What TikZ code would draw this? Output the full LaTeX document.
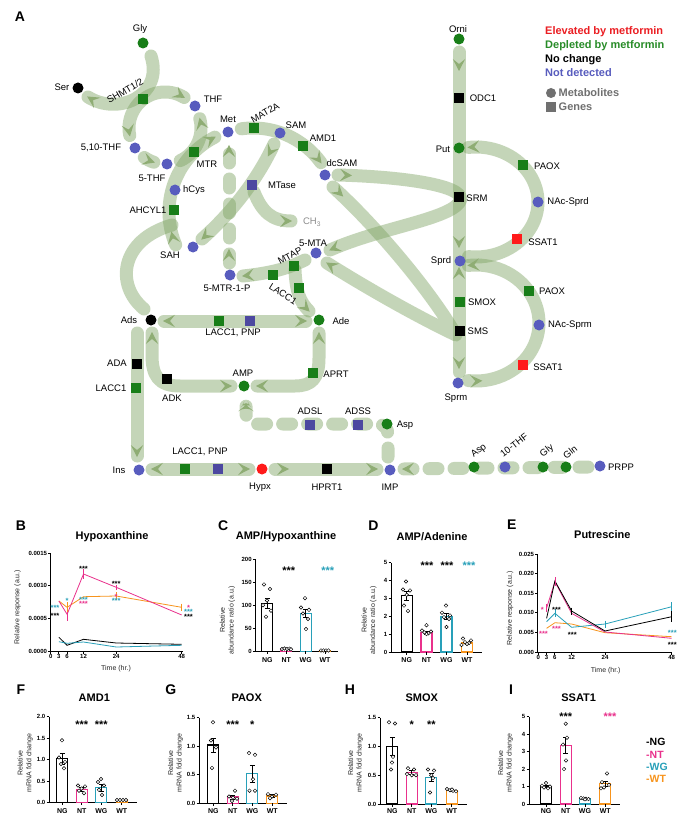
\documentclass[tikz,border=0pt]{standalone}
\usepackage{fontspec}
\setmainfont{Liberation Sans}
\usetikzlibrary{decorations.markings,shapes.geometric}
\definecolor{bandbase}{RGB}{126,164,99}
\definecolor{chevc}{RGB}{143,173,116}
\definecolor{gN}{RGB}{24,126,24}
\definecolor{bC}{RGB}{88,92,190}
\definecolor{bS}{RGB}{76,72,160}
\definecolor{rN}{RGB}{255,26,26}
\definecolor{mag}{RGB}{233,49,140}
\definecolor{cteal}{RGB}{40,160,185}
\definecolor{corg}{RGB}{247,148,29}
\definecolor{legg}{RGB}{112,112,112}
\definecolor{cgray}{RGB}{140,140,140}
\definecolor{legr}{RGB}{235,30,35}
\definecolor{legn}{RGB}{40,140,40}
\newcommand{\chevF}{\fill[chevc] (1pt,0pt) -- (-11pt,6.2pt) -- (-6pt,0pt) -- (-11pt,-6.2pt) -- cycle;}
\newcommand{\chevB}{\fill[chevc] (-1pt,0pt) -- (11pt,6.2pt) -- (6pt,0pt) -- (11pt,-6.2pt) -- cycle;}
\newcommand{\barC}[4]{\draw[#4, line width=1.3pt, fill=white] ({#1-5.5},#3) rectangle ({#1+5.5},#2);}
\newcommand{\errC}[3]{\draw[line width=0.55pt] (#1,{#2-#3}) -- (#1,{#2+#3}) ({#1-2.5},{#2-#3}) -- ({#1+2.5},{#2-#3}) ({#1-2.5},{#2+#3}) -- ({#1+2.5},{#2+#3});}
\newcommand{\dmd}[2]{\draw[dmst] (#1,{#2-1.8}) -- ({#1+1.8},#2) -- (#1,{#2+1.8}) -- ({#1-1.8},#2) -- cycle;}
\tikzset{
  band/.style={draw=bandbase, draw opacity=0.45, line width=13pt, line cap=round, line join=round},
  pills/.style={band, dash pattern=on 9pt off 16pt},
  fwd/.style={postaction={decorate, decoration={markings, mark=at position 1 with {\chevF}}}},
  bwd/.style={postaction={decorate, decoration={markings, mark=at position 0 with {\chevB}}}},
  sfwd/.style={postaction={decorate, decoration={markings, mark=at position 13pt with {\chevF}}}},
  met/.style={circle, minimum size=11pt, inner sep=0pt},
  gene/.style={rectangle, minimum size=10.5pt, inner sep=0pt},
  lbl/.style={font=\fontsize{9.5}{11}\selectfont, inner sep=0pt},
  leg/.style={font=\fontsize{11}{12}\selectfont\bfseries, inner sep=0pt, anchor=west},
  ax/.style={line width=0.9pt, black},
  tk/.style={font=\fontsize{6}{7}\selectfont\bfseries, inner sep=0.6pt},
  xl/.style={font=\fontsize{7}{8}\selectfont\bfseries, inner sep=0pt},
  axl/.style={font=\fontsize{7}{8.6}\selectfont, inner sep=0pt, text=black!85, align=center},
  ttl/.style={font=\fontsize{11}{12}\selectfont\bfseries, inner sep=0pt},
  pl/.style={font=\fontsize{14}{16}\selectfont\bfseries, inner sep=0pt},
  st/.style={font=\fontsize{7.5}{8}\selectfont\bfseries, inner sep=0pt, yshift=-1.6pt},
  sb/.style={font=\fontsize{11}{12}\selectfont\bfseries, inner sep=0pt, yshift=-2.5pt},
  dmst/.style={draw=black, fill=white, line width=0.45pt},
  ser/.style={line width=0.8pt, mark=square*, mark size=1.1pt}
}
\begin{document}
\begin{tikzpicture}[x=1pt,y=-1pt]
\useasboundingbox (0,0) rectangle (685,821);
\fill[white] (0,0) rectangle (685,821);
\node[pl] at (20,17) {A};
% ---------------- bands
\draw[band,bwd,fwd] (88,97) .. controls (118,116) and (164,96) .. (151,56);
\draw[band,fwd] plot[domain=-125:-58, samples=25] ({165+36*cos(\x)},{128+36*sin(\x)});
\draw[band,fwd] plot[domain=-130:-192, samples=25] ({165+36*cos(\x)},{128+36*sin(\x)});
\draw[band,fwd] plot[domain=125:108, samples=10] ({165+36*cos(\x)},{128+36*sin(\x)});
\draw[band,fwd] plot[domain=65:-15, samples=30] ({165+36*cos(\x)},{128+36*sin(\x)});
\draw[band,sfwd,fwd] plot[domain=157:243, samples=40] ({253+84*cos(\x)},{212+84*sin(\x)});
\draw[band,fwd] plot[domain=-98:-36, samples=30] ({253+84*cos(\x)},{212+84*sin(\x)});
\draw[pills,sfwd,fwd] (229,263) -- (229,146);
\draw[band,sfwd,fwd] (274,144) .. controls (262,170) and (240,205) .. (202,239);
\draw[band,fwd] (254,192) .. controls (262,212) and (272,221) .. (291,221);
\draw[band,sfwd,fwd] (338,175) .. controls (410,177) and (472,187) .. (459,203) .. controls (445,220) and (380,228) .. (330,250);
\draw[band,sfwd,fwd] (333,187) .. controls (375,225) and (430,290) .. (456,335) .. controls (420,318) and (370,290) .. (327,263);
\draw[band,fwd] (305,260) .. controls (292,266) and (280,272) .. (243,276);
\draw[band,fwd] (295,270) .. controls (296,292) and (300,302) .. (309,311);
\draw[band,fwd] (172,225) .. controls (120,240) and (115,285) .. (144,309);
\draw[band,bwd,fwd] (164,321) -- (306,321);
\draw[band,bwd,fwd] (152,333) -- (152,355) .. controls (152,375) and (158,386) .. (180,386) -- (231,386);
\draw[band,bwd,fwd] (319,333) -- (319,358) .. controls (319,378) and (312,386) .. (295,386) -- (257,386);
\draw[band,fwd] (137,333) -- (137,456);
\draw[pills,fwd,rounded corners=10pt] (388,457) -- (388,424) -- (246,424) -- (246,399);
\draw[band,bwd,fwd] (152,469) -- (249,469);
\draw[band,sfwd,fwd] (275,469) -- (377,469);
\draw[pills,fwd] (588,467) -- (403,469);
\draw[band, postaction={decorate, decoration={markings, mark=at position 18pt with {\chevF}, mark=at position 195pt with {\chevF}, mark=at position 216pt with {\chevB}, mark=at position 316pt with {\chevF}}}] (459,52) -- (459,372);
\draw[band,fwd] plot[domain=97:-97, samples=50] ({476+62*cos(\x)},{202+55*sin(\x)});
\draw[band,sfwd,fwd] plot[domain=97:-97, samples=50] ({476+63*cos(\x)},{323+58*sin(\x)});
% ---------------- nodes
\node[met, fill=gN] (gly) at (143,43) {};
\node[met, fill=black] (ser) at (78,88) {};
\node[gene, fill=gN] (shmt) at (143,99) {};
\node[met, fill=bC] (thf) at (195,106) {};
\node[met, fill=bC] (thfa) at (135,148) {};
\node[met, fill=bC] (thfb) at (167,164) {};
\node[gene, fill=gN] (mtr) at (194,152) {};
\node[met, fill=bC] (metn) at (228,132) {};
\node[gene, fill=gN] (mat) at (254,128) {};
\node[met, fill=bC] (sam) at (280,133) {};
\node[gene, fill=gN] (amd) at (303,146) {};
\node[met, fill=bC] (dcsam) at (325,175) {};
\node[met, fill=bC] (hcys) at (175,190) {};
\node[gene, fill=bS] (mtase) at (252,185) {};
\node[gene, fill=gN] (ahcyl) at (174,210) {};
\node[met, fill=bC] (sah) at (193,247) {};
\node[met, fill=bC] (mtrp) at (230,275) {};
\node[met, fill=bC] (mta) at (316,253) {};
\node[gene, fill=gN] (mtap) at (294,266) {};
\node[gene, fill=gN] (mtapb) at (273,275) {};
\node[gene, fill=gN] (lacm) at (299,288) {};
\node[met, fill=black] (ads) at (151,320) {};
\node[met, fill=gN] (ade) at (319,320) {};
\node[gene, fill=gN] (laca) at (219,321) {};
\node[gene, fill=bS] (pnpa) at (250,321) {};
\node[gene, fill=black] (ada) at (137,364) {};
\node[gene, fill=gN] (lacb) at (136,388) {};
\node[gene, fill=black] (adk) at (167,379) {};
\node[met, fill=gN] (amp) at (244,386) {};
\node[gene, fill=gN] (aprt) at (313,373) {};
\node[gene, fill=bS] (adsl) at (310,425) {};
\node[gene, fill=bS] (adss) at (358,425) {};
\node[met, fill=gN] (aspa) at (387,424) {};
\node[met, fill=bC] (ins) at (139,470) {};
\node[gene, fill=gN] (lacc) at (185,469) {};
\node[gene, fill=bS] (pnpc) at (218,469) {};
\node[met, fill=rN] (hypx) at (262,469) {};
\node[gene, fill=black] (hprt) at (327,469) {};
\node[met, fill=bC] (imp) at (390,470) {};
\node[met, fill=gN] (aspb) at (474,467) {};
\node[met, fill=bC] (thfc) at (505,467) {};
\node[met, fill=gN] (glyb) at (543,467) {};
\node[met, fill=gN] (gln) at (566,467) {};
\node[met, fill=bC] (prpp) at (600,466) {};
\node[met, fill=gN] (orni) at (459,39) {};
\node[gene, fill=black] (odc) at (459,98) {};
\node[met, fill=gN] (put) at (459,148) {};
\node[gene, fill=black] (srm) at (459,197) {};
\node[gene, fill=gN] (paoxa) at (523,165) {};
\node[met, fill=bC] (nacsprd) at (538,202) {};
\node[gene, fill=rN] (ssata) at (517,239) {};
\node[met, fill=bC] (sprd) at (460,261) {};
\node[gene, fill=gN] (smox) at (460,302) {};
\node[gene, fill=black] (sms) at (460,331) {};
\node[gene, fill=gN] (paoxb) at (529,291) {};
\node[met, fill=bC] (nacsprm) at (539,325) {};
\node[gene, fill=rN] (ssatb) at (523,365) {};
\node[met, fill=bC] (sprm) at (458,383) {};
% ---------------- labels
\node[lbl] at (140,29) {Gly};
\node[lbl] at (62,87) {Ser};
\node[lbl, rotate=30] at (125,91) {SHMT1/2};
\node[lbl] at (213,99) {THF};
\node[lbl] at (101,148) {5,10-THF};
\node[lbl] at (152,178) {5-THF};
\node[lbl] at (207,164) {MTR};
\node[lbl] at (228,119) {Met};
\node[lbl, rotate=30] at (265,113) {MAT2A};
\node[lbl] at (296,125) {SAM};
\node[lbl] at (323,138) {AMD1};
\node[lbl] at (342,163) {dcSAM};
\node[lbl] at (194,190) {hCys};
\node[lbl] at (282,185) {MTase};
\node[lbl] at (148,210) {AHCYL1};
\node[lbl] at (170,255) {SAH};
\node[lbl, text=cgray] at (312,222) {CH\textsubscript{3}};
\node[lbl] at (227,288) {5-MTR-1-P};
\node[lbl] at (313,243) {5-MTA};
\node[lbl, rotate=28] at (290,256) {MTAP};
\node[lbl, rotate=-32] at (283,294) {LACC1};
\node[lbl] at (129,320) {Ads};
\node[lbl] at (341,321) {Ade};
\node[lbl] at (233,333) {LACC1, PNP};
\node[lbl] at (117,363) {ADA};
\node[lbl] at (111,388) {LACC1};
\node[lbl] at (172,398) {ADK};
\node[lbl] at (243,373) {AMP};
\node[lbl] at (336,374) {APRT};
\node[lbl] at (310,411) {ADSL};
\node[lbl] at (358,411) {ADSS};
\node[lbl] at (405,425) {Asp};
\node[lbl] at (119,470) {Ins};
\node[lbl] at (200,452) {LACC1, PNP};
\node[lbl] at (260,487) {Hypx};
\node[lbl] at (327,487) {HPRT1};
\node[lbl] at (390,487) {IMP};
\node[lbl, rotate=38] at (479,451) {Asp};
\node[lbl, rotate=38] at (514,445) {10-THF};
\node[lbl, rotate=38] at (547,451) {Gly};
\node[lbl, rotate=38] at (570,452) {Gln};
\node[lbl] at (621,467) {PRPP};
\node[lbl] at (458,29) {Orni};
\node[lbl] at (483,98) {ODC1};
\node[lbl] at (443,149) {Put};
\node[lbl] at (547,166) {PAOX};
\node[lbl] at (477,198) {SRM};
\node[lbl] at (568,202) {NAc-Sprd};
\node[lbl] at (543,242) {SSAT1};
\node[lbl] at (441,261) {Sprd};
\node[lbl] at (482,302) {SMOX};
\node[lbl] at (478,331) {SMS};
\node[lbl] at (552,291) {PAOX};
\node[lbl] at (570,325) {NAc-Sprm};
\node[lbl] at (548,367) {SSAT1};
\node[lbl] at (456,398) {Sprm};
% legend
\node[leg, text=legr] at (545,32) {Elevated by metformin};
\node[leg, text=legn] at (545,46) {Depleted by metformin};
\node[leg, text=black] at (545,60) {No change};
\node[leg, text=bC] at (545,73) {Not detected};
\node[circle, fill=legg, minimum size=10pt, inner sep=0pt] (lgc) at (551,93) {};
\node[rectangle, fill=legg, minimum size=10pt, inner sep=0pt] (lgs) at (551,107) {};
\node[leg, text=legg] at (558.5,93) {Metabolites};
\node[leg, text=legg] at (558.5,107) {Genes};
% ================= Panel B
\node[pl] at (21,526) {B};
\node[ttl] at (112,537) {Hypoxanthine};
\draw[ax] (50.7,553) -- (50.7,651) -- (182.7,651);
\foreach \yy/\lab in {553/0.0015, 585.7/0.0010, 618.3/0.0005, 651/0.0000} {\draw[ax] (48.2,\yy) -- (50.7,\yy); \node[tk, anchor=east] at (47.8,\yy) {\lab};}
\foreach \xx/\lab in {50.7/0, 58.9/3, 67.1/6, 83.5/12, 116.2/24, 181.7/48} {\draw[ax] (\xx,651) -- (\xx,653.5); \node[tk, anchor=north] at (\xx,653.8) {\lab};}
\node[axl, rotate=90] at (17.5,607) {Relative response (a.u.)};
\node[axl] at (116,669) {Time (hr.)};
\draw[ser, black] plot coordinates {(58.9,637.3) (67.1,645.3) (83.5,639.3) (116.2,643) (181.7,644.3)};
\draw[ser, cteal] plot coordinates {(58.9,641.7) (67.1,643.3) (83.5,642) (116.2,647) (181.7,645.3)};
\draw[ser, corg] plot coordinates {(58.9,601) (67.1,607.3) (83.5,596.7) (116.2,596) (181.7,607.3)};
\draw[ser, mag] plot coordinates {(58.9,601) (67.1,614.3) (83.5,574) (116.2,587.3) (181.7,615)};
\draw[mag, line width=0.6pt] (83.5,569) -- (83.5,579) (67.1,607) -- (67.1,621) (116.2,584.5) -- (116.2,590);
\draw[corg, line width=0.6pt] (116.2,592) -- (116.2,600) (181.7,603.5) -- (181.7,611) (67.1,602) -- (67.1,612);
\node[st, text=cteal] at (55,606) {***};
\node[st, text=black] at (55,614) {***};
\node[st, text=cteal] at (67,599) {*};
\node[st, text=black] at (83.5,567.3) {***};
\node[st, text=cteal] at (83.5,598.3) {***};
\node[st, text=mag] at (83.5,602.3) {***};
\node[st, text=black] at (116.2,582.3) {***};
\node[st, text=mag] at (116.2,595.5) {*};
\node[st, text=cteal] at (116.2,599.3) {***};
\node[st, text=mag] at (188.5,606) {*};
\node[st, text=cteal] at (188.5,610) {***};
\node[st, text=black] at (188.5,615.3) {***};
% ================= Panel C
\node[pl] at (223.3,526) {C};
\node[ttl] at (286,537) {AMP/Hypoxanthine};
\draw[ax] (255.3,559) -- (255.3,651.3) -- (337.7,651.3);
\foreach \yy/\lab in {559/200, 582.1/150, 605.2/100, 628.2/50, 651.3/0} {\draw[ax] (252.8,\yy) -- (255.3,\yy); \node[tk, anchor=east] at (252.4,\yy) {\lab};}
\node[axl, rotate=90] at (227.4,620) {Relative\\abundance ratio (a.u.)};
\barC{267.3}{603.3}{651.3}{black}
\barC{286.3}{648.5}{651.3}{mag}
\barC{305.7}{613.5}{651.3}{cteal}
\barC{325}{650.3}{651.3}{corg}
\errC{267.3}{603.3}{4.6}
\errC{305.7}{613.5}{4.2}
\foreach \px/\py in {264/584.4, 270/589, 267/600.5, 263/605.2, 271/610.7, 266/616.7, 282/649, 284.5/648.5, 287/649, 289.5/648.7, 291/649.3, 305/598.2, 301/607.5, 309/609.8, 303/613.5, 308/619, 306/629.1, 321/650.4, 323.5/650.4, 326/650.4, 328.5/650.4} {\dmd{\px}{\py}}
\foreach \xx/\lab in {267.3/NG, 286.3/NT, 305.7/WG, 325/WT} {\draw[ax] (\xx,651.3) -- (\xx,653.8); \node[xl] at (\xx,660) {\lab};}
\node[sb, text=black] at (288.7,568.3) {***};
\node[sb, text=cteal] at (327.7,568.3) {***};
% ================= Panel D
\node[pl] at (373.3,526) {D};
\node[ttl] at (432,537) {AMP/Adenine};
\draw[ax] (391,562.7) -- (391,652) -- (481.7,652);
\foreach \yy/\lab in {562.7/5, 580.6/4, 598.4/3, 616.3/2, 634.1/1, 652/0} {\draw[ax] (388.5,\yy) -- (391,\yy); \node[tk, anchor=east] at (388.1,\yy) {\lab};}
\node[axl, rotate=90] at (369,620) {Relative\\abundance ratio (a.u.)};
\barC{406.7}{595.7}{652}{black}
\barC{426.5}{632.4}{652}{mag}
\barC{446.5}{616.3}{652}{cteal}
\barC{467}{643.1}{652}{corg}
\errC{406.7}{595.7}{4.5}
\errC{426.5}{632.4}{1.6}
\errC{446.5}{616.3}{2.6}
\errC{467}{643.1}{1.3}
\foreach \px/\py in {406/581.5, 403/589.5, 410/590.4, 406.7/594.8, 404/605.6, 408/610.9, 426.5/625.2, 422/630.6, 431/631.5, 424.5/632.4, 428.5/633.2, 426.5/634.1, 446/605.6, 442/612.7, 450/615.4, 444/617.2, 449/619, 446.5/627, 463/638.6, 471/640.4, 465/642.2, 469/643.1, 467/644, 461.5/644.9} {\dmd{\px}{\py}}
\foreach \xx/\lab in {406.7/NG, 426.5/NT, 446.5/WG, 467/WT} {\draw[ax] (\xx,652) -- (\xx,654.5); \node[xl] at (\xx,660.5) {\lab};}
\node[sb, text=black] at (427,563) {***};
\node[sb, text=black] at (447,563) {***};
\node[sb, text=cteal] at (469,563) {***};
% ================= Panel E
\node[pl] at (511.7,525) {E};
\node[ttl] at (602.3,535) {Putrescine};
\draw[ax] (537.7,554) -- (537.7,652) -- (672.3,652);
\foreach \yy/\lab in {554/0.025, 573.6/0.020, 593.2/0.015, 612.8/0.010, 632.4/0.005, 652/0.000} {\draw[ax] (535.2,\yy) -- (537.7,\yy); \node[tk, anchor=east] at (534.8,\yy) {\lab};}
\foreach \xx/\lab in {538.3/0, 546.6/3, 554.9/6, 571.6/12, 605/24, 671.7/48} {\draw[ax] (\xx,652) -- (\xx,654.5); \node[tk, anchor=north] at (\xx,654.8) {\lab};}
\node[axl, rotate=90] at (510,608) {Relative response (a.u.)};
\node[axl] at (605.7,670.3) {Time (hr.)};
\draw[ser, corg] plot coordinates {(546.6,628.3) (554.9,622.7) (571.6,624) (605,632.7) (671.7,636.7)};
\draw[ser, cteal] plot coordinates {(546.6,621.7) (554.9,613.3) (571.6,627.3) (605,624) (671.7,606.7)};
\draw[ser, mag] plot coordinates {(546.6,608) (554.9,581.7) (571.6,613.3) (605,632) (671.7,638.3)};
\draw[ser, black] plot coordinates {(546.6,618.3) (554.9,581) (571.6,611) (605,631) (671.7,616.7)};
\draw[mag, line width=0.6pt] (546.6,604) -- (546.6,612) (554.9,577) -- (554.9,586);
\draw[cteal, line width=0.6pt] (671.7,602) -- (671.7,611) (554.9,609) -- (554.9,617) (605,620.5) -- (605,627.5);
\draw[black, line width=0.6pt] (671.7,611) -- (671.7,622) (571.6,607.5) -- (571.6,614.5);
\node[st, text=mag] at (542.3,608.5) {*};
\node[st, text=black] at (556.5,608.3) {***};
\node[st, text=mag] at (543.5,632.7) {***};
\node[st, text=mag] at (556.5,627.3) {***};
\node[st, text=black] at (572.3,633.3) {***};
\node[st, text=cteal] at (672.3,631) {***};
\node[st, text=black] at (672.3,643.3) {***};
% ================= Panel F
\node[pl] at (21,690) {F};
\node[ttl] at (94.3,697.5) {AMD1};
\draw[ax] (49,716.7) -- (49,802.7) -- (136.7,802.7);
\foreach \yy/\lab in {716.7/2.0, 738.2/1.5, 759.7/1.0, 781.2/0.5, 802.7/0.0} {\draw[ax] (46.5,\yy) -- (49,\yy); \node[tk, anchor=east] at (46.1,\yy) {\lab};}
\node[axl, rotate=90] at (25.2,763) {Relative\\mRNA fold change};
\barC{62.3}{758.8}{802.7}{black}
\barC{81.7}{789.4}{802.7}{mag}
\barC{101.3}{787.6}{802.7}{cteal}
\barC{121.7}{800.1}{802.7}{corg}
\errC{62.3}{758.8}{5.6}
\errC{81.7}{789.4}{1.7}
\errC{101.3}{787.6}{3.4}
\foreach \px/\py in {62/740.3, 59/757.5, 65/761.9, 61/764, 64/768.3, 78/785.5, 85/786.4, 81.7/788.5, 79/790.7, 84/793.2, 101/779, 98/782, 104/785.5, 99/789.8, 102/795, 117/800, 120/800, 123/800, 126/800} {\dmd{\px}{\py}}
\foreach \xx/\lab in {62.3/NG, 81.7/NT, 101.3/WG, 121.7/WT} {\draw[ax] (\xx,802.7) -- (\xx,805.2); \node[xl] at (\xx,811) {\lab};}
\node[sb, text=black] at (81.7,722) {***};
\node[sb, text=black] at (101.3,722) {***};
% ================= Panel G
\node[pl] at (170.7,690) {G};
\node[ttl] at (246.7,697.5) {PAOX};
\draw[ax] (199,717.7) -- (199,803.3) -- (286.7,803.3);
\foreach \yy/\lab in {717.7/1.5, 746.2/1.0, 774.8/0.5, 803.3/0.0} {\draw[ax] (196.5,\yy) -- (199,\yy); \node[tk, anchor=east] at (196.1,\yy) {\lab};}
\node[axl, rotate=90] at (175.5,763) {Relative\\mRNA fold change};
\barC{213.3}{745.1}{803.3}{black}
\barC{232.7}{797}{803.3}{mag}
\barC{252.3}{773.6}{803.3}{cteal}
\barC{272.3}{795.9}{803.3}{corg}
\errC{213.3}{745.1}{6.8}
\errC{232.7}{797}{1.8}
\errC{252.3}{773.6}{8.6}
\errC{272.3}{795.9}{1.2}
\foreach \px/\py in {213/722.3, 211/740.5, 216/747.4, 212/767.9, 235/790.7, 229/796.5, 233/797.6, 237/798.7, 232/801, 249/753.1, 255/754.8, 253/779.3, 249.5/790.7, 255/790.7, 268/794.2, 276/794.7, 272/796.5, 270/798.2} {\dmd{\px}{\py}}
\foreach \xx/\lab in {213.3/NG, 232.7/NT, 252.3/WG, 272.3/WT} {\draw[ax] (\xx,803.3) -- (\xx,805.8); \node[xl] at (\xx,811) {\lab};}
\node[sb, text=black] at (232.7,722) {***};
\node[sb, text=black] at (252.3,722) {*};
% ================= Panel H
\node[pl] at (350,690) {H};
\node[ttl] at (421.7,698) {SMOX};
\draw[ax] (380,717.7) -- (380,804) -- (466.7,804);
\foreach \yy/\lab in {717.7/1.5, 746.5/1.0, 775.2/0.5, 804/0.0} {\draw[ax] (377.5,\yy) -- (380,\yy); \node[tk, anchor=east] at (377.1,\yy) {\lab};}
\node[axl, rotate=90] at (355.5,763) {Relative\\mRNA fold change};
\barC{392.3}{746.5}{804}{black}
\barC{411.7}{772.4}{804}{mag}
\barC{431.3}{777.5}{804}{cteal}
\barC{451.7}{790.2}{804}{corg}
\errC{392.3}{746.5}{9.2}
\errC{411.7}{772.4}{2.3}
\errC{431.3}{777.5}{4}
\errC{451.7}{790.2}{0.8}
\foreach \px/\py in {389/722.3, 395/723.5, 393/756.8, 392/762.6, 391/769.5, 408/768.3, 414/769.5, 407/774.1, 411.7/775.2, 416/775.2, 428/769.5, 434/770.6, 431.3/775.2, 433/778.1, 430/792.5, 447/789, 450/790.2, 453/790.8, 456/791.3, 452/789.6} {\dmd{\px}{\py}}
\foreach \xx/\lab in {392.3/NG, 411.7/NT, 431.3/WG, 451.7/WT} {\draw[ax] (\xx,804) -- (\xx,806.5); \node[xl] at (\xx,811.5) {\lab};}
\node[sb, text=black] at (411.7,722) {*};
\node[sb, text=black] at (431.3,722) {**};
% ================= Panel I
\node[pl] at (511,690) {I};
\node[ttl] at (578.7,698) {SSAT1};
\draw[ax] (529,716.7) -- (529,804) -- (620,804);
\foreach \yy/\lab in {716.7/5, 734.2/4, 751.6/3, 769.1/2, 786.5/1, 804/0} {\draw[ax] (526.5,\yy) -- (529,\yy); \node[tk, anchor=east] at (526.1,\yy) {\lab};}
\node[axl, rotate=90] at (505.5,763) {Relative\\mRNA fold change};
\barC{546}{786.5}{804}{black}
\barC{565.7}{745.5}{804}{mag}
\barC{585}{798.8}{804}{cteal}
\barC{605.3}{783.4}{804}{corg}
\errC{546}{786.5}{1.2}
\errC{565.7}{745.5}{7.9}
\errC{585}{798.8}{0.6}
\errC{605.3}{783.4}{2.6}
\foreach \px/\py in {546/783, 542/785.7, 550/786.5, 544/787.4, 548/788.3, 565.7/723.7, 567/737.7, 563/744.6, 566/760.4, 564/769.1, 581/797.9, 583.5/798.4, 586/798.8, 588.5/799.1, 585/799.3, 607/773.4, 602/782.2, 609/784.8, 604/787.4, 601/788.3} {\dmd{\px}{\py}}
\foreach \xx/\lab in {546/NG, 565.7/NT, 585/WG, 605.3/WT} {\draw[ax] (\xx,804) -- (\xx,806.5); \node[xl] at (\xx,811.5) {\lab};}
\node[sb, text=black] at (565.7,714.5) {***};
\node[sb, text=mag] at (610,714.5) {***};
% legend groups
\node[leg, font=\fontsize{10.5}{12}\selectfont\bfseries, text=black] at (646,742) {-NG};
\node[leg, font=\fontsize{10.5}{12}\selectfont\bfseries, text=mag] at (646,754.5) {-NT};
\node[leg, font=\fontsize{10.5}{12}\selectfont\bfseries, text=cteal] at (646,767) {-WG};
\node[leg, font=\fontsize{10.5}{12}\selectfont\bfseries, text=corg] at (646,779) {-WT};
\end{tikzpicture}
\end{document}
